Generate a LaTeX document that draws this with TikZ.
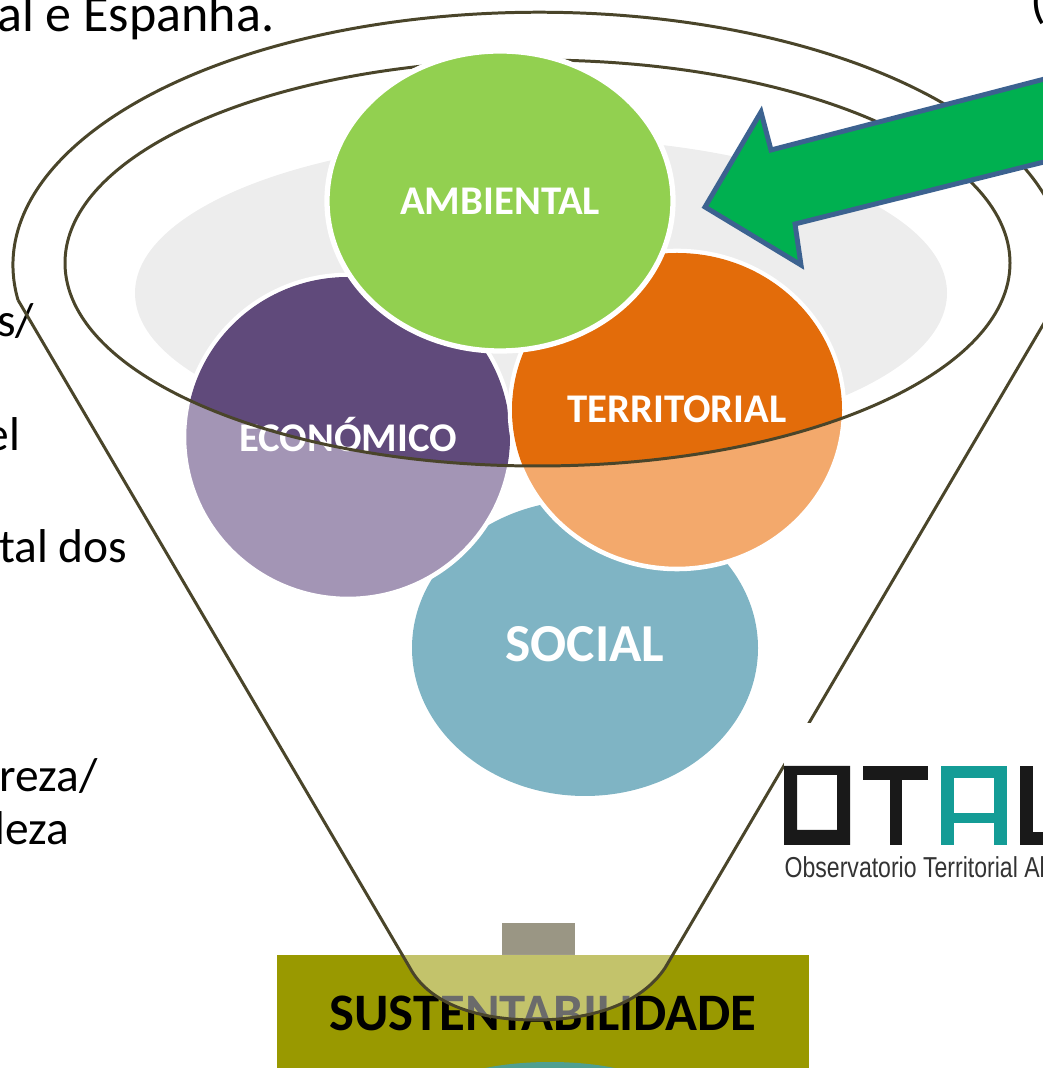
\documentclass[tikz,border=0pt]{standalone}
\usepackage{fontspec}
\setmainfont{Carlito}
\definecolor{funnelline}{HTML}{4A452A}
\definecolor{ambientcol}{HTML}{92D050}
\definecolor{econdark}{HTML}{604A7B}
\definecolor{econlight}{HTML}{A395B5}
\definecolor{terrdark}{HTML}{E36C0A}
\definecolor{terrlight}{HTML}{F3A96C}
\definecolor{socialcol}{HTML}{7FB4C4}
\definecolor{platecol}{HTML}{999900}
\definecolor{stemcol}{HTML}{9A9684}
\definecolor{platespot}{HTML}{4F9F90}
\definecolor{arrowfill}{HTML}{00B050}
\definecolor{arrowline}{HTML}{3C6290}
\definecolor{logoteal}{HTML}{149C96}
\tikzset{
    pillar/.style={font=\fontsize{11.6}{14}\selectfont\bfseries, text=white, inner sep=0pt},
    bodytext/.style={font=\fontsize{13.5}{16}\selectfont, anchor=base east, inner sep=0pt},
    funnel/.style={draw=funnelline, line width=0.85pt}
}

\begin{document}
\begin{tikzpicture}

    \useasboundingbox (0,0) rectangle (10.43,10.68);

    %% Text behind the funnel
    \node[bodytext, font=\fontsize{14.8}{17}\selectfont] (title) at (2.75,10.36) {al e Espanha.};
    \node[bodytext, font=\fontsize{14.8}{17}\selectfont] (bracket) at (10.47,10.50) {(};
    \node[bodytext] (lineA) at (0.35,7.31) {s/};
    \node[bodytext] (lineB) at (0.21,6.17) {el};
    \node[bodytext] (lineC) at (1.28,5.05) {tal dos};
    \node[bodytext] (lineD) at (0.98,2.76) {reza/};
    \node[bodytext] (lineE) at (0.70,2.23) {leza};

    %% Base plate
    \fill[platecol] (2.77,0) rectangle (8.09,1.13);
    \fill[stemcol] (5.02,1.13) rectangle (5.75,1.45);
    \fill[platespot] (5.50,-0.42) ellipse (1.34 and 0.48);
    \node[font=\fontsize{15}{18}\selectfont\bfseries, inner sep=0pt] (result) at (5.43,0.55) {SUSTENTABILIDADE};
    \fill[white, opacity=0.42] (4.02,1.13) -- (4.10,1.00) .. controls (4.30,0.63) and (4.80,0.48) .. (5.35,0.48)
    .. controls (5.90,0.48) and (6.40,0.63) .. (6.65,1.00) -- (6.72,1.13) -- cycle;

    %% Funnel
    \fill[black!7] (5.41,7.75) ellipse (4.06 and 1.55);
    \draw[funnel] (0.18,7.68) arc[start angle=187.9, end angle=5, x radius=5.26, y radius=2.53];
    \draw[funnel] (0.18,7.68) -- (4.10,1.00) .. controls (4.30,0.63) and (4.80,0.48) .. (5.35,0.48)
    .. controls (5.90,0.48) and (6.40,0.63) .. (6.65,1.00) -- (10.50,7.55);

    %% Social
    \fill[socialcol] (5.85,4.20) ellipse (1.73 and 1.48);
    \node[pillar, font=\fontsize{15.2}{18}\selectfont\bfseries] (social) at (5.85,4.24) {SOCIAL};

    %% Economic
    \filldraw[econlight, draw=white, line width=1.3pt] (3.48,6.31) ellipse (1.64 and 1.62);
    \begin{scope}
        \clip (5.375,8.05) ellipse (4.725 and 2.03);
        \fill[econdark] (3.48,6.31) ellipse (1.62 and 1.60);
    \end{scope}

    %% Territorial
    \filldraw[terrlight, draw=white, line width=1.3pt] (6.77,6.58) ellipse (1.67 and 1.59);
    \begin{scope}
        \clip (5.375,8.05) ellipse (4.725 and 2.03);
        \fill[terrdark] (6.77,6.58) ellipse (1.65 and 1.57);
    \end{scope}
    \node[pillar] (economic) at (3.48,6.33) {ECONÓMICO};
    \node[pillar] (territorial) at (6.77,6.59) {TERRITORIAL};

    %% Rim of the funnel, over the two lower circles
    \draw[funnel] (5.375,8.05) ellipse (4.725 and 2.03);

    %% Environment
    \filldraw[ambientcol, draw=white, line width=1.5pt] (5.00,8.67) ellipse (1.73 and 1.50);
    \node[pillar] (ambient) at (5.00,8.67) {AMBIENTAL};

    %% Arrow
    \filldraw[fill=arrowfill, draw=arrowline, line width=1.4pt, line join=miter] (7.05,8.61) -- (7.61,9.56) -- (7.71,9.18)
    -- (10.60,9.93) -- (10.60,9.10) -- (7.95,8.44) -- (8.01,8.03) -- cycle;

    %% Logo
    \fill[white] (7.84,1.68) rectangle (10.43,3.45);
    \fill[black!90, even odd rule] (7.84,2.23) rectangle (8.50,3.02) (7.97,2.38) rectangle (8.37,2.93);
    \fill[black!90] (8.63,2.88) rectangle (9.28,3.02);
    \fill[black!90] (8.90,2.23) rectangle (9.02,2.88);
    \fill[logoteal] (9.41,2.23) rectangle (9.54,3.02);
    \fill[logoteal] (9.94,2.23) rectangle (10.07,3.02);
    \fill[logoteal] (9.41,2.90) rectangle (10.07,3.02);
    \fill[logoteal] (9.41,2.45) rectangle (10.07,2.55);
    \fill[black!90] (10.20,2.23) rectangle (10.33,3.02);
    \fill[black!90] (10.20,2.23) rectangle (10.50,2.36);
    \node[anchor=base west, inner sep=0pt, text=black!80] (logotext) at (7.84,1.90)
    {\scalebox{0.8}[1]{\fontspec{Liberation Sans}\fontsize{8.2}{10}\selectfont Observatorio Territorial Al}};

\end{tikzpicture}
\end{document}
